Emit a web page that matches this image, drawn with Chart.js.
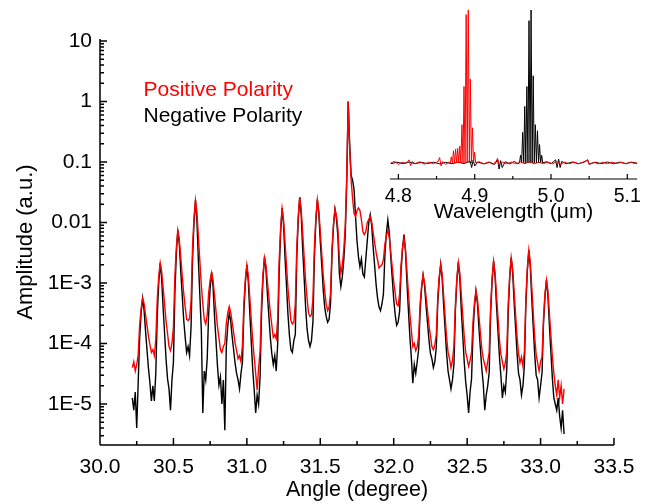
<!DOCTYPE html>
<html><head><meta charset="utf-8">
<script src="https://cdn.jsdelivr.net/npm/chart.js@4.4.0/dist/chart.umd.min.js"></script>
<style>
html,body{margin:0;padding:0;background:#fff;}
#wrap{position:relative;width:647px;height:504px;overflow:hidden;font-family:"Liberation Sans",Arial,sans-serif;background:#fff;}
#main{position:absolute;left:0;top:0;}
#inset{position:absolute;left:360px;top:0;}
.leg{position:absolute;left:143.5px;font-size:21px;line-height:21px;white-space:nowrap;}
</style></head><body>
<div id="wrap">
<canvas id="main" width="647" height="504"></canvas>
<canvas id="inset" width="287" height="232"></canvas>
<div class="leg" style="top:77.5px;color:#ff0000">Positive Polarity</div>
<div class="leg" style="top:104px;color:#000000">Negative Polarity</div>
</div>
<script>
// ---------- main chart data: angle (degree) and amplitudes (a.u.) ----------
const angle = [
30.22,30.23,30.24,30.25,30.26,30.27,30.28,30.29,30.30,30.31,
30.32,30.33,30.34,30.35,30.36,30.37,30.38,30.39,30.40,30.41,
30.42,30.43,30.44,30.45,30.46,30.47,30.48,30.49,30.50,30.51,
30.52,30.53,30.54,30.55,30.56,30.57,30.58,30.59,30.60,30.61,
30.62,30.63,30.64,30.65,30.66,30.67,30.68,30.69,30.70,30.71,
30.72,30.73,30.74,30.75,30.76,30.77,30.78,30.79,30.80,30.81,
30.82,30.83,30.84,30.85,30.86,30.87,30.88,30.89,30.90,30.91,
30.92,30.93,30.94,30.95,30.96,30.97,30.98,30.99,31.00,31.01,
31.02,31.03,31.04,31.05,31.06,31.07,31.08,31.09,31.10,31.11,
31.12,31.13,31.14,31.15,31.16,31.17,31.18,31.19,31.20,31.21,
31.22,31.23,31.24,31.25,31.26,31.27,31.28,31.29,31.30,31.31,
31.32,31.33,31.34,31.35,31.36,31.37,31.38,31.39,31.40,31.41,
31.42,31.43,31.44,31.45,31.46,31.47,31.48,31.49,31.50,31.51,
31.52,31.53,31.54,31.55,31.56,31.57,31.58,31.59,31.60,31.61,
31.62,31.63,31.64,31.65,31.66,31.67,31.68,31.69,31.70,31.71,
31.72,31.73,31.74,31.75,31.76,31.77,31.78,31.79,31.80,31.81,
31.82,31.83,31.84,31.85,31.86,31.87,31.88,31.89,31.90,31.91,
31.92,31.93,31.94,31.95,31.96,31.97,31.98,31.99,32.00,32.01,
32.02,32.03,32.04,32.05,32.06,32.07,32.08,32.09,32.10,32.11,
32.12,32.13,32.14,32.15,32.16,32.17,32.18,32.19,32.20,32.21,
32.22,32.23,32.24,32.25,32.26,32.27,32.28,32.29,32.30,32.31,
32.32,32.33,32.34,32.35,32.36,32.37,32.38,32.39,32.40,32.41,
32.42,32.43,32.44,32.45,32.46,32.47,32.48,32.49,32.50,32.51,
32.52,32.53,32.54,32.55,32.56,32.57,32.58,32.59,32.60,32.61,
32.62,32.63,32.64,32.65,32.66,32.67,32.68,32.69,32.70,32.71,
32.72,32.73,32.74,32.75,32.76,32.77,32.78,32.79,32.80,32.81,
32.82,32.83,32.84,32.85,32.86,32.87,32.88,32.89,32.90,32.91,
32.92,32.93,32.94,32.95,32.96,32.97,32.98,32.99,33.00,33.01,
33.02,33.03,33.04,33.05,33.06,33.07,33.08,33.09,33.10,33.11,
33.12,33.13,33.14,33.15,33.16];

const positive = [
4.0e-5,5.0e-5,3.5e-5,4.5e-5,6.5e-5,2.0e-4,3.8e-4,5.6e-4,4.6e-4,3.0e-4,
2.0e-4,1.32e-4,9.5e-5,7.1e-5,7.9e-5,6.3e-5,1.17e-4,5.5e-4,1.29e-3,2.14e-3,
1.55e-3,8.3e-4,4.4e-4,2.3e-4,1.45e-4,8.9e-5,7.6e-5,1.0e-4,1.9e-4,1.32e-3,
3.9e-3,7.4e-3,5.2e-3,2.63e-3,1.32e-3,6.8e-4,4.0e-4,2.5e-4,2.4e-4,2.6e-4,
5.0e-4,3.8e-3,1.17e-2,2.34e-2,1.48e-2,5.75e-3,2.3e-3,9.1e-4,4.5e-4,2.5e-4,
2.1e-4,2.95e-4,6.9e-4,1.12e-3,1.48e-3,1.1e-3,6.2e-4,3.4e-4,1.9e-4,1.23e-4,
7.9e-5,7.1e-5,8.9e-5,1.0e-4,2.14e-4,3.2e-4,4.1e-4,3.3e-4,2.24e-4,1.51e-4,
1.02e-4,7.6e-5,5.6e-5,6.3e-5,5.0e-5,9.5e-5,4.8e-4,1.17e-3,2.0e-3,1.32e-3,
5.75e-4,2.5e-4,1.1e-4,5.9e-5,3.2e-5,1.7e-5,4.0e-5,7.4e-5,4.9e-4,1.41e-3,
2.63e-3,1.95e-3,1.05e-3,5.75e-4,3.2e-4,2.0e-4,1.26e-4,1.41e-4,1.2e-4,2.6e-4,
2.4e-3,8.1e-3,1.7e-2,1.1e-2,4.7e-3,1.95e-3,8.1e-4,4.3e-4,2.4e-4,2.1e-4,
2.24e-4,4.6e-4,3.9e-3,1.29e-2,2.63e-2,1.66e-2,6.8e-3,2.7e-3,1.1e-3,5.6e-4,
3.2e-4,2.8e-4,3.0e-4,5.5e-4,4.1e-3,1.23e-2,2.4e-2,1.58e-2,7.1e-3,3.1e-3,
1.35e-3,7.4e-4,4.5e-4,3.5e-4,4.0e-4,6.9e-4,3.7e-3,9.5e-3,1.66e-2,1.29e-2,
7.9e-3,2.5e-3,1.45e-3,2.0e-3,3.5e-3,8.9e-3,5.6e-2,1.0,0.158,5.0e-2,
2.5e-2,1.41e-2,1.26e-2,1.58e-2,1.74e-2,1.58e-2,1.12e-2,7.1e-3,6.3e-3,7.1e-3,
1.0e-2,1.12e-2,1.26e-2,1.02e-2,6.9e-3,4.7e-3,3.2e-3,2.4e-3,1.78e-3,1.9e-3,
2.0e-3,2.45e-3,4.4e-3,6.0e-3,7.4e-3,5.6e-3,3.2e-3,1.82e-3,1.05e-3,6.8e-4,
4.5e-4,4.2e-4,6.5e-4,2.0e-3,3.8e-3,5.5e-3,3.6e-3,1.58e-3,6.9e-4,3.1e-4,
1.66e-4,8.9e-5,1.0e-4,7.6e-5,8.9e-5,1.35e-4,4.6e-4,8.9e-4,1.35e-3,1.02e-3,
6.0e-4,3.5e-4,2.0e-4,1.35e-4,8.9e-5,7.9e-5,9.5e-5,1.41e-4,5.9e-4,1.29e-3,
2.04e-3,1.38e-3,6.3e-4,2.8e-4,1.29e-4,7.2e-5,5.6e-5,4.0e-5,5.25e-5,8.9e-5,
4.4e-4,1.2e-3,2.2e-3,1.48e-3,6.6e-4,2.95e-4,1.32e-4,7.2e-5,5.6e-5,4.2e-5,
5.25e-5,7.1e-5,2.3e-4,4.8e-4,7.4e-4,5.4e-4,2.9e-4,1.51e-4,8.1e-5,5.6e-5,
4.5e-5,3.5e-5,5.0e-5,7.1e-5,4.2e-4,1.2e-3,2.3e-3,1.48e-3,6.3e-4,2.7e-4,
1.15e-4,6.6e-5,5.0e-5,3.8e-5,4.8e-5,7.6e-5,4.7e-4,1.38e-3,2.63e-3,1.7e-3,
7.2e-4,3.0e-4,1.29e-4,6.8e-5,4.8e-5,6.0e-5,4.2e-5,7.6e-5,5.6e-4,1.78e-3,
3.5e-3,2.2e-3,8.5e-4,3.3e-4,1.29e-4,6.5e-5,4.8e-5,3.5e-5,5.0e-5,6.0e-5,
2.7e-4,6.6e-4,1.12e-3,7.4e-4,3.2e-4,1.41e-4,6.2e-5,3.3e-5,2.0e-5,1.41e-5,
2.5e-5,1.26e-5,2.0e-5,1.0e-5,1.78e-5];

const negative = [
1.26e-5,7.9e-6,1.58e-5,4.0e-6,2.24e-5,1.23e-4,3.2e-4,5.6e-4,3.6e-4,1.62e-4,
7.9e-5,3.9e-5,2.24e-5,1.12e-5,2.0e-5,1.12e-5,3.3e-5,3.0e-4,1.02e-3,2.14e-3,
1.17e-3,3.8e-4,1.45e-4,5.4e-5,2.6e-5,1.78e-5,7.9e-6,2.5e-5,4.9e-5,7.1e-4,
3.1e-3,7.6e-3,4.4e-3,1.55e-3,6.2e-4,2.45e-4,1.26e-4,7.1e-5,8.9e-5,6.3e-5,
1.86e-4,2.4e-3,1.0e-2,2.34e-2,1.07e-2,2.34e-3,6.2e-4,1.66e-4,7.1e-6,3.5e-5,
2.5e-5,5.6e-5,3.2e-4,8.3e-4,1.51e-3,8.5e-4,2.8e-4,1.1e-4,4.2e-5,2.04e-5,
2.8e-5,1.0e-5,2.5e-5,3.7e-6,8.7e-5,1.95e-4,3.2e-4,2.34e-4,1.29e-4,7.8e-5,
4.7e-5,3.2e-5,2.5e-5,1.78e-5,3.2e-5,4.9e-5,3.5e-4,1.02e-3,2.0e-3,1.05e-3,
3.2e-4,1.07e-4,3.7e-5,1.7e-5,7.1e-6,1.41e-5,1.0e-5,2.8e-5,3.2e-4,1.2e-3,
2.7e-3,1.66e-3,6.5e-4,2.8e-4,1.23e-4,6.8e-5,4.5e-5,6.3e-5,3.5e-5,1.0e-4,
1.51e-3,6.9e-3,1.74e-2,9.1e-3,2.63e-3,8.9e-4,3.0e-4,1.35e-4,7.9e-5,7.1e-5,
1.12e-4,1.41e-4,2.7e-3,1.12e-2,2.63e-2,1.35e-2,3.7e-3,1.23e-3,4.0e-4,1.74e-4,
1.12e-4,8.9e-5,1.12e-4,2.3e-4,2.7e-3,1.05e-2,2.4e-2,1.38e-2,4.9e-3,1.95e-3,
7.8e-4,4.0e-4,2.8e-4,2.24e-4,2.5e-4,4.7e-4,3.1e-3,8.9e-3,1.66e-2,1.17e-2,
5.9e-3,1.41e-3,8.7e-4,1.26e-3,2.4e-3,6.3e-3,4.5e-2,1.0,0.2,6.0e-2,
5.0e-2,3.5e-2,1.26e-2,5.0e-3,2.7e-3,1.86e-3,2.5e-3,1.41e-3,1.26e-3,2.5e-3,
5.0e-3,1.0e-2,1.35e-2,8.9e-3,3.9e-3,1.95e-3,9.5e-4,5.6e-4,4.0e-4,3.5e-4,
4.5e-4,6.6e-4,2.9e-3,6.6e-3,1.1e-2,6.8e-3,2.7e-3,1.2e-3,5.4e-4,3.0e-4,
2.0e-4,2.24e-4,3.4e-4,1.58e-3,3.7e-3,6.3e-3,3.4e-3,1.02e-3,3.6e-4,1.29e-4,
5.9e-5,2.2e-5,4.5e-5,3.2e-5,5.0e-5,8.1e-5,3.6e-4,8.3e-4,1.35e-3,9.1e-4,
4.3e-4,2.2e-4,1.15e-4,6.9e-5,5.6e-5,4.0e-5,5.0e-5,8.7e-5,4.7e-4,1.17e-3,
2.04e-3,1.17e-3,4.2e-4,1.7e-4,6.9e-5,3.5e-5,2.5e-5,1.78e-5,2.5e-5,4.5e-5,
3.5e-4,1.1e-3,2.2e-3,1.2e-3,3.7e-4,1.38e-4,5.0e-5,2.34e-5,1.41e-5,7.1e-6,
1.58e-5,2.6e-5,1.51e-4,4.1e-4,7.4e-4,4.6e-4,1.86e-4,8.3e-5,3.8e-5,2.1e-5,
7.9e-6,1.41e-5,2.0e-5,3.3e-5,3.2e-4,1.1e-3,2.3e-3,1.29e-3,4.2e-4,1.58e-4,
6.0e-5,2.9e-5,1.26e-5,2.0e-5,1.58e-5,3.8e-5,3.5e-4,1.23e-3,2.63e-3,1.48e-3,
4.8e-4,1.78e-4,6.8e-5,3.2e-5,2.5e-5,1.41e-5,2.0e-5,4.4e-5,4.5e-4,1.62e-3,
3.5e-3,1.86e-3,5.5e-4,1.9e-4,6.6e-5,3.0e-5,2.5e-5,1.26e-5,2.0e-5,3.3e-5,
2.14e-4,6.0e-4,1.12e-3,6.2e-4,2.0e-4,7.4e-5,2.75e-5,1.29e-5,1.0e-5,7.9e-6,
1.26e-5,6.3e-6,4.0e-6,7.9e-6,3.2e-6];

const xTickValues = [30.0,30.5,31.0,31.5,32.0,32.5,33.0,33.5];
const xMinorValues = [30.25,30.75,31.25,31.75,32.25,32.75,33.25];
const yTickValues = [10,1,0.1,0.01,1e-3,1e-4,1e-5];
const yTickLabels = ['10','1','0.1','0.01','1E-3','1E-4','1E-5'];

// ---------- inset data: wavelength (um) and normalised intensity ----------
const insetWlPositive = [4.790,4.795,4.800,4.805,4.810,4.814,4.816,4.818,4.822,4.828,4.834,4.840,4.846,4.852,4.854,4.856,4.858,4.862,4.866,
4.8680,4.8694,4.8708,4.8722,4.8736,4.8750,4.8764,4.8777,4.8791,4.8805,4.8819,4.8833,4.8847,4.8860,4.8874,4.8888,4.8902,4.8916,4.8930,4.8943,4.8957,4.8971,4.8985,4.8999,4.9013,
4.906,4.912,4.918,4.924,4.928,4.930,4.932,4.936,4.942,4.948,4.954,4.960,4.966,4.972,4.978,4.984,4.990,4.996,5.002,5.008,5.012,5.018,5.024,5.030,5.036,5.042,5.048,5.050,5.056,5.062,5.068,5.074,5.080,5.086,5.092,5.098,5.104,5.110,5.113];
const insetPositive = [0,0.01,-0.01,0.005,-0.005,0.02,-0.02,0.01,-0.005,0.008,-0.008,0.005,-0.005,0.01,0.035,-0.02,0.01,-0.01,0.005,
0,0.04,0,0.08,0,0.09,0,0.095,0,0.11,0,0.25,0,0.50,0,0.97,0,1.0,0,0.55,0,0.23,0,0.07,0,
0.008,-0.006,0.006,-0.008,0.01,0.03,-0.01,0.006,-0.006,0.005,-0.005,0.006,-0.005,0.008,-0.006,0.005,-0.005,0.006,-0.006,0.01,-0.01,0.005,-0.006,0.006,-0.005,0.005,0.02,-0.01,0.004,-0.006,0.005,-0.005,0.006,-0.004,0.005,-0.006,0.005,-0.004,0.002];
const insetWlNegative = [4.790,4.798,4.806,4.814,4.822,4.830,4.838,4.846,4.854,4.862,4.870,4.878,4.886,4.894,4.896,4.898,4.900,4.904,4.912,4.920,4.926,4.930,4.932,4.934,4.936,4.940,4.946,4.952,4.956,
4.9587,4.9601,4.9615,4.9629,4.9643,4.9656,4.9670,4.9684,4.9698,4.9712,4.9726,4.9739,4.9753,4.9767,4.9781,4.9795,4.9809,4.9823,4.9837,4.9850,4.9864,4.9878,4.9892,
4.994,5.000,5.006,5.008,5.010,5.012,5.014,5.020,5.028,5.036,5.044,5.048,5.050,5.058,5.066,5.074,5.082,5.090,5.098,5.106,5.113];
const insetNegative = [-0.005,0.005,-0.004,0.006,-0.005,0.004,-0.004,0.005,-0.006,0.004,-0.005,0.005,-0.004,0.012,-0.03,0.02,-0.02,0.006,-0.006,0.005,-0.01,0.02,-0.04,0.015,-0.03,0.008,-0.006,0.01,-0.005,
0,0.05,0,0.20,0,0.37,0,0.50,0,0.93,0,1.0,0,0.57,0,0.25,0,0.21,0,0.12,0,0.05,0,
0.008,-0.006,0.02,-0.03,0.025,-0.03,0.01,-0.005,0.006,-0.005,0.006,0.02,-0.008,0.005,-0.005,0.006,-0.005,0.005,-0.004,0.005,-0.003];
const insetTickValues = [4.8,4.9,5.0,5.1];
const insetMinorValues = [4.85,4.95,5.05];

// ---------- drawing ----------
const FONT = '"Liberation Sans", Arial, sans-serif';
Chart.defaults.font.family = FONT;
Chart.defaults.font.size = 21;
Chart.defaults.color = '#000';

function yMinorTicks(min, max) {
  const out = [];
  for (let e = -7; e <= 1; e++) {
    for (let k = 2; k <= 9; k++) {
      const v = k * Math.pow(10, e);
      if (v >= min && v <= max) out.push(v);
    }
  }
  return out;
}

function axesPlugin(cfg) {
  return {
    id: 'inwardAxes',
    afterDraw(chart) {
      const {ctx, chartArea: a} = chart;
      const xs = chart.scales.x, ys = chart.scales.y;
      ctx.save();
      ctx.strokeStyle = '#000';
      ctx.lineWidth = cfg.lineWidth;
      ctx.beginPath();
      ctx.moveTo(a.left, a.bottom); ctx.lineTo(a.right, a.bottom);
      if (cfg.showY) { ctx.moveTo(a.left, a.top); ctx.lineTo(a.left, a.bottom); }
      const xt = (v, len) => { const p = xs.getPixelForValue(v); ctx.moveTo(p, a.bottom); ctx.lineTo(p, a.bottom - len); };
      cfg.xMajor.forEach(v => xt(v, cfg.major));
      cfg.xMinor.forEach(v => xt(v, cfg.minor));
      if (cfg.showY) {
        const yt = (v, len) => { const p = ys.getPixelForValue(v); ctx.moveTo(a.left, p); ctx.lineTo(a.left + len, p); };
        cfg.yMajor.forEach(v => yt(v, cfg.major));
        cfg.yMinor.forEach(v => yt(v, cfg.minor));
      }
      ctx.stroke();
      ctx.restore();
    }
  };
}

const Y_MIN = 2.1e-6, Y_MAX = 10.8;

new Chart(document.getElementById('main'), {
  type: 'line',
  data: {
    datasets: [
      { label: 'Positive Polarity', data: angle.map((a, i) => ({x: a, y: positive[i]})),
        borderColor: '#ff0000', borderWidth: 1.4, pointRadius: 0, tension: 0, order: 0 },
      { label: 'Negative Polarity', data: angle.map((a, i) => ({x: a, y: negative[i]})),
        borderColor: '#000000', borderWidth: 1.4, pointRadius: 0, tension: 0, order: 1 }
    ]
  },
  options: {
    responsive: false, animation: false, devicePixelRatio: 1,
    layout: {padding: {left: 0, top: 39, right: 33, bottom: 0}},
    plugins: {legend: {display: false}, tooltip: {enabled: false}},
    scales: {
      x: {
        type: 'linear', min: 30, max: 33.5,
        grid: {display: false, drawTicks: false}, border: {display: false},
        afterBuildTicks: s => { s.ticks = xTickValues.map(v => ({value: v})); },
        afterFit: s => { s.height = 59; },
        ticks: {padding: 10, autoSkip: false, maxRotation: 0, callback: v => Number(v).toFixed(1)},
        title: {display: true, text: 'Angle (degree)', font: {size: 21.5}, padding: {top: 0, bottom: 1}}
      },
      y: {
        type: 'logarithmic', min: Y_MIN, max: Y_MAX,
        grid: {display: false, drawTicks: false}, border: {display: false},
        afterBuildTicks: s => { s.ticks = yTickValues.map(v => ({value: v})); },
        afterFit: s => { s.width = 100; },
        ticks: {padding: 8, autoSkip: false, callback: v => yTickLabels[yTickValues.indexOf(v)]},
        title: {display: true, text: 'Amplitude (a.u.)', font: {size: 22}, padding: {top: 13, bottom: 0}}
      }
    }
  },
  plugins: [axesPlugin({lineWidth: 1.5, showY: true, major: 7, minor: 4,
    xMajor: xTickValues, xMinor: xMinorValues, yMajor: yTickValues, yMinor: yMinorTicks(Y_MIN, Y_MAX)})]
});

new Chart(document.getElementById('inset'), {
  type: 'line',
  data: {
    datasets: [
      { label: 'Positive Polarity', data: insetWlPositive.map((w, i) => ({x: w, y: insetPositive[i]})),
        borderColor: '#ff0000', borderWidth: 1, pointRadius: 0, tension: 0, order: 0 },
      { label: 'Negative Polarity', data: insetWlNegative.map((w, i) => ({x: w, y: insetNegative[i]})),
        borderColor: '#000000', borderWidth: 1, pointRadius: 0, tension: 0, order: 1 }
    ]
  },
  options: {
    responsive: false, animation: false, devicePixelRatio: 1,
    layout: {padding: {left: 30, top: 8, right: 4, bottom: 0}},
    plugins: {legend: {display: false}, tooltip: {enabled: false}},
    scales: {
      x: {
        type: 'linear', min: 4.789, max: 5.113,
        grid: {display: false, drawTicks: false}, border: {display: false},
        afterBuildTicks: s => { s.ticks = insetTickValues.map(v => ({value: v})); },
        afterFit: s => { s.height = 53; },
        ticks: {padding: 6, autoSkip: false, maxRotation: 0, font: {size: 19.5}, callback: v => Number(v).toFixed(1)},
        title: {display: true, text: 'Wavelength (\u03bcm)', font: {size: 21}, padding: {top: 0, bottom: 7}}
      },
      y: {type: 'linear', display: false, min: -0.105, max: 1.013}
    }
  },
  plugins: [axesPlugin({lineWidth: 1.2, showY: false, major: 5, minor: 3,
    xMajor: insetTickValues, xMinor: insetMinorValues, yMajor: [], yMinor: []})]
});
</script>
</body></html>
